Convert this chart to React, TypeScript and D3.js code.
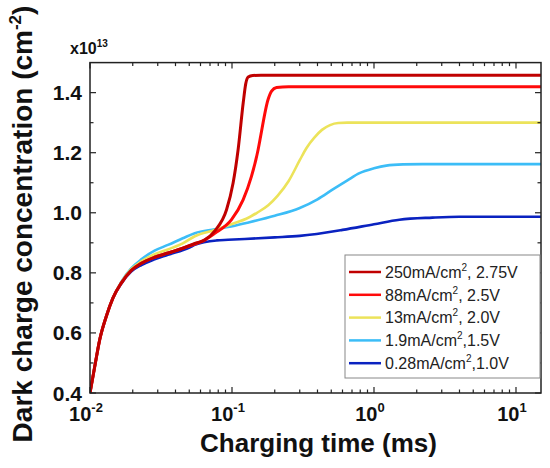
import React from "react";
import * as d3 from "d3";

const t250 = [0.01,0.0108,0.0117,0.013,0.0145,0.0166,0.0195,0.023,0.0285,0.0354,0.045,0.0547,0.0644,0.0757,0.0915,0.1018,0.1104,0.12,0.125,0.13,0.14,0.16,15];
const v250 = [0.40,0.488,0.577,0.654,0.716,0.766,0.808,0.832,0.852,0.866,0.882,0.898,0.91,0.94,1.01,1.099,1.21,1.367,1.43,1.452,1.457,1.458,1.458];

const t88 = [0.01,0.0108,0.0117,0.013,0.0145,0.0166,0.0195,0.023,0.0285,0.0354,0.045,0.0547,0.061,0.0757,0.0992,0.1197,0.1371,0.1527,0.157,0.1795,0.19,0.206,0.25,15];
const v88 = [0.40,0.488,0.577,0.654,0.716,0.766,0.808,0.832,0.852,0.866,0.882,0.896,0.904,0.932,0.977,1.043,1.121,1.21,1.24,1.377,1.405,1.417,1.42,1.42];

const t13 = [0.01,0.0108,0.0117,0.013,0.0145,0.0166,0.0195,0.023,0.0285,0.0354,0.045,0.0547,0.0757,0.1046,0.126,0.15,0.18,0.21,0.25,0.3,0.334,0.38,0.43,0.49,0.56,0.65,15];
const v13 = [0.40,0.488,0.577,0.654,0.716,0.768,0.812,0.838,0.862,0.878,0.898,0.922,0.943,0.966,0.98,1.0,1.025,1.057,1.105,1.175,1.215,1.25,1.276,1.292,1.299,1.3,1.3];

const t19 = [0.01,0.0108,0.0117,0.013,0.0145,0.0166,0.0195,0.023,0.0285,0.0354,0.045,0.0547,0.0757,0.1046,0.126,0.2,0.3,0.4,0.51,0.65,0.79,1.0,1.22,1.6,2.2,15];
const v19 = [0.40,0.488,0.577,0.654,0.716,0.77,0.815,0.845,0.874,0.893,0.915,0.932,0.945,0.957,0.966,0.99,1.016,1.045,1.077,1.108,1.132,1.148,1.157,1.161,1.162,1.162];

const t028 = [0.01,0.0108,0.0117,0.013,0.0145,0.0166,0.0195,0.023,0.0285,0.0354,0.0506,0.0547,0.078,0.0939,0.2,0.3,0.6,1.0,1.51,2.58,4,15];
const v028 = [0.40,0.488,0.577,0.654,0.716,0.764,0.804,0.826,0.845,0.86,0.885,0.893,0.908,0.91,0.918,0.923,0.943,0.962,0.977,0.984,0.987,0.987];

const seriesLabels = ["250mA/cm", "88mA/cm", "13mA/cm", "1.9mA/cm", "0.28mA/cm"];
const seriesVolts = [", 2.75V", ", 2.5V", ", 2.0V", ",1.5V", ",1.0V"];
const seriesColors = ["#c00000", "#ff0a0a", "#ece35a", "#3cbdf7", "#0a22c0"];
const seriesT = [t250, t88, t13, t19, t028];
const seriesV = [v250, v88, v13, v19, v028];
const seriesWidths = [3, 3, 2.6, 2.6, 2.6];

const yMajor = [0.4, 0.6, 0.8, 1.0, 1.2, 1.4];
const yMinor = [0.5, 0.7, 0.9, 1.1, 1.3];
const xMajorExp = [-2, -1, 0, 1];

const W = 550, H = 468;
const L = 90, R = 541, T = 62.6, B = 393;
const FONT = "Arial, 'Liberation Sans', sans-serif";

export default function App() {
  const x = d3.scaleLog().domain([0.01, 15]).range([L, R]);
  const y = d3.scaleLinear().domain([0.4, 1.5]).range([B, T]);
  const xMinor: number[] = [];
  for (const e of [-2, -1, 0]) for (let k = 2; k <= 9; k++) xMinor.push(k * Math.pow(10, e));
  const line = d3.line<[number, number]>().x(d => x(d[0])).y(d => y(d[1])).curve(d3.curveMonotoneX);
  const order = [4, 3, 2, 1, 0];
  return (
    <svg width={W} height={H} style={{ position: "absolute", left: 0, top: 0, background: "#fff" }} fontFamily={FONT}>
      <defs>
        <clipPath id="plot"><rect x={L} y={T} width={R - L} height={B - T} /></clipPath>
      </defs>
      <g clipPath="url(#plot)">
        {order.map(i => (
          <path key={i} d={line(seriesT[i].map((t, j) => [t, seriesV[i][j]] as [number, number])) || ""}
            fill="none" stroke={seriesColors[i]} strokeWidth={seriesWidths[i]} strokeLinejoin="round" />
        ))}
      </g>
      <g stroke="#222" strokeWidth={1.2}>
        {yMajor.map(v => (
          <g key={"ym" + v}>
            <line x1={L} x2={L + 6} y1={y(v)} y2={y(v)} />
            <line x1={R} x2={R - 6} y1={y(v)} y2={y(v)} />
          </g>
        ))}
        {yMinor.map(v => (
          <g key={"yn" + v}>
            <line x1={L} x2={L + 3.5} y1={y(v)} y2={y(v)} />
            <line x1={R} x2={R - 3.5} y1={y(v)} y2={y(v)} />
          </g>
        ))}
        {xMajorExp.map(e => (
          <g key={"xm" + e}>
            <line x1={x(Math.pow(10, e))} x2={x(Math.pow(10, e))} y1={B} y2={B - 6} />
            <line x1={x(Math.pow(10, e))} x2={x(Math.pow(10, e))} y1={T} y2={T + 6} />
          </g>
        ))}
        {xMinor.map(v => (
          <g key={"xn" + v}>
            <line x1={x(v)} x2={x(v)} y1={B} y2={B - 3.5} />
            <line x1={x(v)} x2={x(v)} y1={T} y2={T + 3.5} />
          </g>
        ))}
      </g>
      <rect x={L} y={T} width={R - L} height={B - T} fill="none" stroke="#222" strokeWidth={1.5} />
      {yMajor.map(v => (
        <text key={"yl" + v} x={L - 8} y={y(v)} dy="0.36em" textAnchor="end" fontWeight="bold" fontSize={21} fill="#111">
          {v.toFixed(1)}
        </text>
      ))}
      <text x={70} y={54} fontWeight="bold" fontSize={16} fill="#111">
        x10<tspan dy={-7} fontSize={10}>13</tspan>
      </text>
      {xMajorExp.map(e => (
        <text key={"xl" + e} x={x(Math.pow(10, e)) - 4} y={421} textAnchor="middle" fontWeight="bold" fontSize={20} fill="#111">
          10<tspan dy={-9} fontSize={13}>{e}</tspan>
        </text>
      ))}
      <text x={(L + R) / 2 + 3} y={452} textAnchor="middle" fontWeight="bold" fontSize={26} fill="#111">
        Charging time (ms)
      </text>
      <text transform={`translate(32,${224}) rotate(-90)`} textAnchor="middle" fontWeight="bold" fontSize={28} fill="#111">
        Dark charge concentration (cm<tspan dy={-11} fontSize={17}>-2</tspan><tspan dy={11}>)</tspan>
      </text>
      <rect x={345} y={255} width={195} height={123} fill="#fff" stroke="#888" strokeWidth={1} />
      {seriesLabels.map((s, i) => {
        const yy = 272 + i * 22.8;
        return (
          <g key={"lg" + i}>
            <line x1={349} x2={381} y1={yy} y2={yy} stroke={seriesColors[i]} strokeWidth={2.5} />
            <text x={385} y={yy} dy="0.36em" fontSize={16} fill="#222">
              {s}<tspan dy={-7} fontSize={10}>2</tspan><tspan dy={7}>{seriesVolts[i]}</tspan>
            </text>
          </g>
        );
      })}
    </svg>
  );
}
